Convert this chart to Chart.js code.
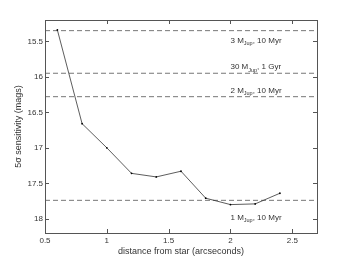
<!DOCTYPE html>
<html>
<head>
<meta charset="utf-8">
<script src="https://cdn.jsdelivr.net/npm/chart.js@4"></script>
<style>
  html, body { margin: 0; padding: 0; background: #fff; }
  #wrap { width: 350px; height: 263px; position: relative; }
</style>
</head>
<body>
<div id="wrap"><canvas id="sensChart"></canvas></div>
<script>
// data
const distances = [0.6, 0.8, 1.0, 1.2, 1.4, 1.6, 1.8, 2.0, 2.2, 2.4];
const sensitivity = [15.34, 16.66, 17.0, 17.36, 17.41, 17.33, 17.71, 17.8, 17.79, 17.64];

// model limits (dashed lines)
const limitMags = [15.35, 15.95, 16.28, 17.74];
const limitMass = ["3", "30", "2", "1"];
const limitAge = ["10 Myr", "1 Gyr", "10 Myr", "10 Myr"];
const labelAtX = 2.0;

const xTicks = [0.5, 1, 1.5, 2, 2.5];
const yTicks = [15.5, 16, 16.5, 17, 17.5, 18];
const xMin = 0.5, xMax = 2.7;
const yMin = 15.2, yMax = 18.2;

const FONT = "'Liberation Sans', Arial, sans-serif";

// where each label sits relative to its line (px, + is below)
const labelShift = [10, -6, -6, 17];

const limitSets = limitMags.map((m) => ({
  data: [{ x: xMin, y: m }, { x: xMax, y: m }],
  borderColor: "#777",
  borderWidth: 1,
  borderDash: [5, 3],
  pointRadius: 0,
}));

// box + inward ticks + labels with subscripts
const framePlugin = {
  id: "frame",
  afterDraw(chart) {
    const ctx = chart.ctx;
    const a = chart.chartArea;
    const xs = chart.scales.x, ys = chart.scales.y;
    ctx.save();
    ctx.strokeStyle = "#555";
    ctx.lineWidth = 1;
    ctx.strokeRect(Math.round(a.left) + 0.5, Math.round(a.top) + 0.5,
      Math.round(a.right - a.left), Math.round(a.bottom - a.top));
    ctx.beginPath();
    xs.ticks.forEach((t) => {
      const px = Math.round(xs.getPixelForValue(t.value)) + 0.5;
      ctx.moveTo(px, a.bottom); ctx.lineTo(px, a.bottom - 4);
      ctx.moveTo(px, a.top); ctx.lineTo(px, a.top + 4);
    });
    ys.ticks.forEach((t) => {
      const py = Math.round(ys.getPixelForValue(t.value)) + 0.5;
      ctx.moveTo(a.left, py); ctx.lineTo(a.left + 4, py);
      ctx.moveTo(a.right, py); ctx.lineTo(a.right - 4, py);
    });
    ctx.stroke();

    ctx.fillStyle = "#333";
    ctx.textBaseline = "middle";
    ctx.textAlign = "left";
    limitMags.forEach((m, i) => {
      let x = xs.getPixelForValue(labelAtX);
      const y = ys.getPixelForValue(m) + labelShift[i];
      ctx.font = "8px " + FONT;
      const main = limitMass[i] + " M";
      ctx.fillText(main, x, y);
      x += ctx.measureText(main).width;
      ctx.font = "5.5px " + FONT;
      ctx.fillText("Jup", x, y + 3);
      x += ctx.measureText("Jup").width;
      ctx.font = "8px " + FONT;
      const rest = ", " + limitAge[i];
      ctx.fillText(rest, x, y);
    });
    ctx.restore();
  },
};

new Chart(document.getElementById("sensChart").getContext("2d"), {
  type: "line",
  data: {
    datasets: [
      {
        data: distances.map((d, i) => ({ x: d, y: sensitivity[i] })),
        borderColor: "#333",
        borderWidth: 0.8,
        pointRadius: 0.9,
        pointBackgroundColor: "#000",
        pointBorderWidth: 0,
        tension: 0,
      },
      ...limitSets,
    ],
  },
  options: {
    responsive: true,
    maintainAspectRatio: false,
    animation: false,
    events: [],
    layout: { padding: { left: 0, top: 20, right: 33, bottom: 0 } },
    plugins: { legend: { display: false }, tooltip: { enabled: false } },
    scales: {
      x: {
        type: "linear",
        min: xMin,
        max: xMax,
        afterBuildTicks: (s) => { s.ticks = xTicks.map((v) => ({ value: v })); },
        afterFit: (s) => { s.height = 30; },
        grid: { display: false, drawTicks: false },
        border: { display: false },
        ticks: {
          color: "#333",
          font: { family: FONT, size: 8 },
          padding: 3,
          maxRotation: 0,
          callback: (v) => String(v),
        },
        title: {
          display: true,
          text: "distance from star (arcseconds)",
          color: "#333",
          font: { family: FONT, size: 9 },
          padding: { top: 0, bottom: 6 },
        },
      },
      y: {
        type: "linear",
        reverse: true,
        min: yMin,
        max: yMax,
        afterBuildTicks: (s) => { s.ticks = yTicks.map((v) => ({ value: v })); },
        afterFit: (s) => { s.width = 45; },
        grid: { display: false, drawTicks: false },
        border: { display: false },
        ticks: {
          color: "#333",
          font: { family: FONT, size: 8 },
          padding: 2,
          callback: (v) => String(v),
        },
        title: {
          display: true,
          text: "5σ sensitivity (mags)",
          color: "#333",
          font: { family: FONT, size: 9 },
          padding: { top: 13, bottom: 0 },
        },
      },
    },
  },
  plugins: [framePlugin],
});
</script>
</body>
</html>
